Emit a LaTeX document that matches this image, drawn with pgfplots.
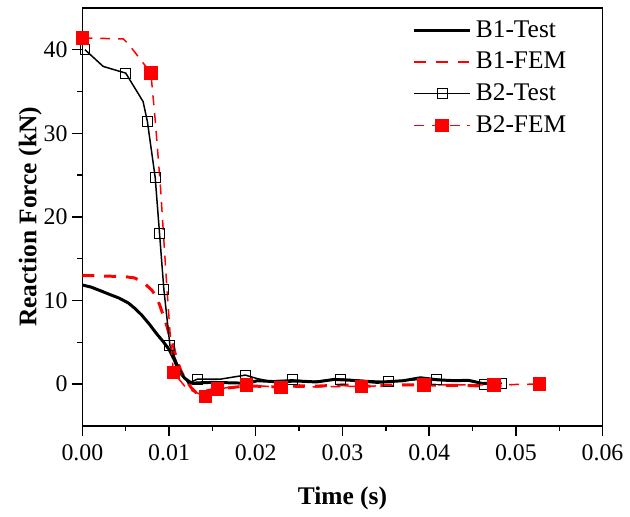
\documentclass[border=0pt]{standalone}
\usepackage{fontspec}
\setmainfont{Liberation Serif}
\usepackage{pgfplots}
\pgfplotsset{compat=1.18}

\begin{document}
\begin{tikzpicture}
\begin{axis}[
    name=ax,
    width=262pt, height=210.5pt,
    scale only axis,
    xmin=0, xmax=0.06,
    ymin=-5, ymax=45,
    xtick={0,0.01,...,0.06},
    ytick={0,10,20,30,40},
    minor x tick num=1,
    minor y tick num=1,
    tick align=outside,
    xtick pos=left, ytick pos=left,
    major tick length=5pt, minor tick length=2.5pt,
    axis line style={line width=0.8pt},
    every tick/.style={line width=0.7pt, black},
    scaled x ticks=false,
    xticklabel style={yshift=-1pt, /pgf/number format/.cd, fixed, fixed zerofill, precision=2},
    yticklabel style={xshift=1pt},
    /pgf/number format/assume math mode=true,
    tick label style={font=\fontsize{12}{14}\selectfont},
    xlabel={\textbf{Time (s)}},
    ylabel={\textbf{Reaction Force (kN)}},
    label style={font=\fontsize{12.8}{15}\selectfont},
    xlabel style={yshift=-6pt},
    ylabel style={yshift=-6pt},
    legend style={at={(0.95,0.99)}, anchor=north east, draw=none, fill=none,
        font=\fontsize{12.8}{15}\selectfont, row sep=2pt,
        /tikz/every even column/.append style={column sep=2pt}},
    legend cell align=left,
    legend image code/.code={
        \draw[#1, mark indices={2}] plot coordinates {(0cm,0cm) (0.5cm,0cm) (1.0cm,0cm)};
    },
]
% B1-Test
\addplot[black, line width=1.5pt] coordinates {
(0.0000,11.85) (0.0010,11.6) (0.0020,11.2) (0.0032,10.7) (0.0042,10.3)
(0.0053,9.7) (0.0060,9.1) (0.0068,8.3) (0.0077,7.2) (0.0085,6.1)
(0.0093,5.1) (0.0100,4.15) (0.0106,2.9) (0.0111,1.6) (0.0118,0.7)
(0.0126,0.1) (0.0135,0.15) (0.0150,0.2) (0.0170,0.15) (0.0190,0.1)
(0.0202,0.4) (0.0220,0.3) (0.0250,0.35) (0.0270,0.25) (0.0290,0.55)
(0.0310,0.45) (0.0340,0.2) (0.0370,0.4) (0.0390,0.75) (0.0410,0.5)
(0.0430,0.4) (0.0445,0.45) (0.0460,0.1) (0.0470,0.05)
};
\addlegendentry{B1-Test}
% B1-FEM
\addplot[red, line width=1.5pt, dash pattern=on 6pt off 5pt] coordinates {
(0.0000,13.0) (0.0049,12.85) (0.0060,12.7) (0.0066,12.4) (0.0073,11.9)
(0.0080,11.25) (0.0085,10.5) (0.0089,9.5) (0.0093,8.3) (0.0097,7.1)
(0.0100,6.0) (0.0104,5.0) (0.0108,3.2) (0.0114,1.5) (0.0120,0.4)
(0.0126,-0.5) (0.0131,-1.0) (0.0140,-0.9) (0.0153,-0.6) (0.0170,-0.45)
(0.0190,-0.2) (0.0210,-0.3) (0.0230,-0.35) (0.0250,-0.2) (0.0270,-0.25)
(0.0300,-0.1) (0.0330,-0.25) (0.0360,-0.1) (0.0390,-0.1) (0.0420,-0.15)
(0.0450,-0.2) (0.0470,-0.25) (0.0495,-0.1)
};
\addlegendentry{B1-FEM}
% B2-Test
\addplot[black, line width=0.75pt, mark=square, mark size=2.5pt,
    mark options={solid, line width=0.5pt, fill=white},
    mark indices={1,3,5,6,7,8,9,12,14,17,19,21,23,26,27}] coordinates {
(0.0003,40.0) (0.0024,38.0) (0.0050,37.2) (0.0070,33.8) (0.0075,31.4)
(0.0084,24.7) (0.0089,18.0) (0.0094,11.3) (0.0101,4.6) (0.0112,1.8)
(0.0122,0.1) (0.0133,0.6) (0.0160,0.6) (0.0188,1.07) (0.0200,0.7)
(0.0215,0.35) (0.0242,0.5) (0.0265,0.3) (0.0298,0.6) (0.0320,0.45)
(0.0353,0.28) (0.0380,0.5) (0.0408,0.6) (0.0430,0.35) (0.0450,0.4)
(0.0464,0.0) (0.0484,0.1)
};
\addlegendentry{B2-Test}
% B2-FEM
\addplot[red, line width=0.75pt, dash pattern=on 5pt off 4pt, mark=square*, mark size=3pt,
    mark options={solid, fill=red},
    mark indices={1,5,10,12,13,14,15,16,17,18,19}] coordinates {
(0.0000,41.4) (0.0047,41.3) (0.0053,40.7) (0.0068,38.7) (0.0079,37.2)
(0.0084,31.6) (0.0090,23.7) (0.0097,12.25) (0.0101,6.3) (0.0105,1.4)
(0.0120,-0.5) (0.0142,-1.5) (0.0156,-0.6) (0.0189,-0.1) (0.0229,-0.4)
(0.0322,-0.27) (0.0394,-0.1) (0.0475,-0.1) (0.0527,0.0)
};
\addlegendentry{B2-FEM}
\end{axis}
% page margins as in the reference
\path ([xshift=-41.5pt, yshift=4pt]ax.north west) rectangle ([yshift=-44.5pt]ax.south west);
\end{tikzpicture}
\end{document}
